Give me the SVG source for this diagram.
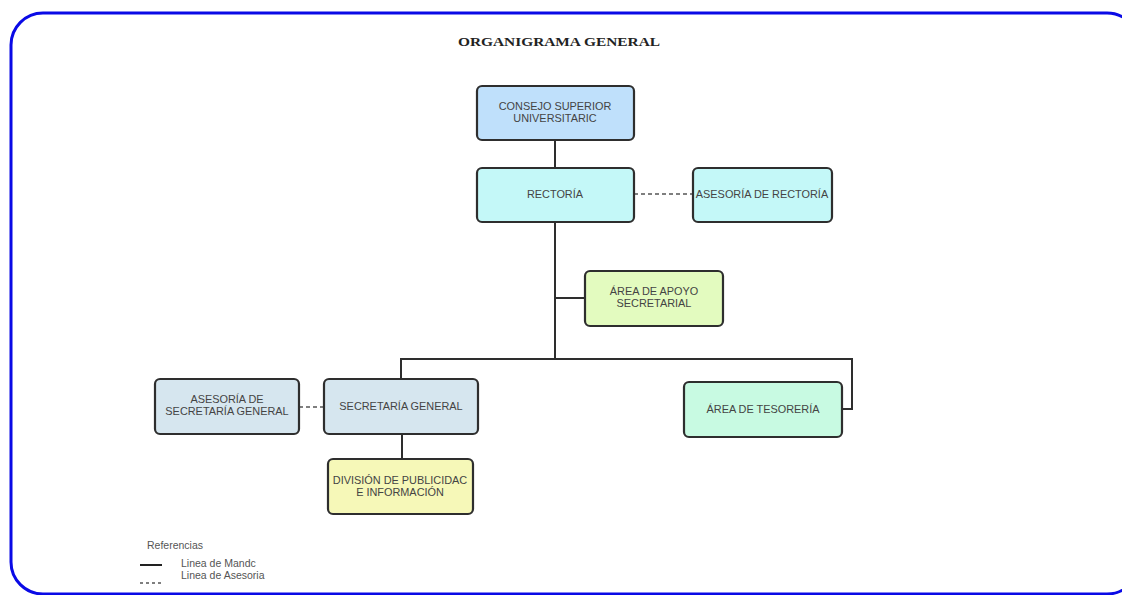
<svg xmlns="http://www.w3.org/2000/svg" width="1122" height="595" viewBox="0 0 1122 595">
<style>
.node{stroke:#2e2e2e;stroke-width:2.2}
.t{font-family:"Liberation Sans",Arial,sans-serif;font-size:10.9px;fill:#444;text-anchor:middle}
.solid{stroke:#2e2e2e;stroke-width:2;fill:none}
.dash{stroke:#555;stroke-width:1.6;stroke-dasharray:4 3;fill:none}
.lg{font-family:"Liberation Sans",Arial,sans-serif;font-size:10.5px;fill:#555}
</style>
<rect x="0" y="0" width="1122" height="595" fill="#ffffff"/>
<rect id="frame" x="11" y="13" width="1128" height="581" rx="32" fill="none" stroke="#0a0ae6" stroke-width="3"/>
<text x="559" y="46" font-family="'Liberation Serif','Times New Roman',serif" font-size="13.5" font-weight="bold" fill="#222" text-anchor="middle" textLength="202" lengthAdjust="spacingAndGlyphs">ORGANIGRAMA GENERAL</text>
<g id="connectors">
<path class="solid" d="M555 140V168M555 222V359M555 298H585M401 379V359H852V409H842M402 434V459"/>
<path class="dash" d="M634 194H693M299 407H324"/>
</g>
<g id="consejo"><rect class="node" x="477" y="86" width="157" height="54" rx="5" fill="#bfe0fb"/><text class="t" x="555" y="110">CONSEJO SUPERIOR</text><text class="t" x="555" y="122">UNIVERSITARIC</text></g>
<g id="rectoria"><rect class="node" x="477" y="168" width="157" height="54" rx="5" fill="#c4f8f8"/><text class="t" x="555" y="198">RECTORÍA</text></g>
<g id="asesoria-rectoria"><rect class="node" x="693" y="168" width="139" height="54" rx="5" fill="#c4f8f8"/><text class="t" x="762" y="198">ASESORÍA DE RECTORÍA</text></g>
<g id="apoyo"><rect class="node" x="585" y="271" width="138" height="55" rx="5" fill="#e3fbbf"/><text class="t" x="654" y="295">ÁREA DE APOYO</text><text class="t" x="654" y="307">SECRETARIAL</text></g>
<g id="secretaria"><rect class="node" x="324" y="379" width="154" height="55" rx="5" fill="#d6e6ef"/><text class="t" x="401" y="410">SECRETARÍA GENERAL</text></g>
<g id="asesoria-secretaria"><rect class="node" x="155" y="379" width="144" height="55" rx="5" fill="#d6e6ef"/><text class="t" x="227" y="403">ASESORÍA DE</text><text class="t" x="227" y="415">SECRETARÍA GENERAL</text></g>
<g id="tesoreria"><rect class="node" x="684" y="382" width="158" height="55" rx="5" fill="#c8fae2"/><text class="t" x="763" y="413">ÁREA DE TESORERÍA</text></g>
<g id="division"><rect class="node" x="328" y="459" width="145" height="55" rx="5" fill="#f6f8b8"/><text class="t" x="400" y="484">DIVISIÓN DE PUBLICIDAC</text><text class="t" x="400" y="496">E INFORMACIÓN</text></g>
<g id="legend">
<text class="lg" x="147" y="549">Referencias</text>
<line x1="140" y1="565" x2="162" y2="565" stroke="#222" stroke-width="2"/>
<line x1="140" y1="583" x2="162" y2="583" stroke="#555" stroke-width="1.3" stroke-dasharray="3 3"/>
<text class="lg" x="181" y="567">Linea de Mandc</text>
<text class="lg" x="181" y="579">Linea de Asesoria</text>
</g>
</svg>
